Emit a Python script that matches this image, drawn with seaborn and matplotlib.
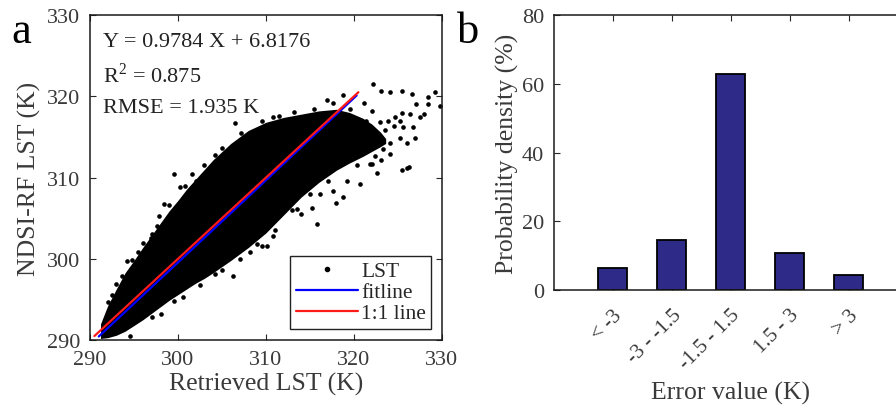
import numpy as np
import pandas as pd
import seaborn as sns
import matplotlib.pyplot as plt

# ---- panel a : retrieved vs NDSI-RF LST ----
# dense core of the cloud (lower / upper edge)
cloud_x = [291.2, 292, 293, 294, 295, 296, 297, 298, 299, 300, 301, 302, 303, 304,
           306, 308, 310, 312, 314, 316, 318, 319.5, 321, 322, 323, 323.6]
cloud_lo = [290.2, 290.3, 290.6, 291.1, 291.8, 292.5, 293.3, 294.1, 294.9, 295.6, 296.3,
            297.0, 297.6, 298.3, 299.8, 301.4, 303.2, 305.4, 307.6, 309.4, 310.9, 311.8,
            312.6, 313.2, 313.8, 314.2]
cloud_hi = [292.0, 294.2, 296.3, 298.3, 299.8, 301.4, 302.9, 304.4, 305.9, 307.2, 308.6,
            309.8, 311.0, 312.2, 314.2, 315.8, 316.8, 317.4, 317.8, 318.2, 318.4, 318.0,
            317.3, 316.6, 315.6, 314.8]

# loose points around the core
pts_x = [
    # upper-left side
    293.0, 293.6, 294.2, 295.5, 296.7, 296.9, 297.1, 297.6, 297.8, 298.4, 299.5, 300.2,
    301.6, 302.0, 304.2, 306.5, 310.8, 315.4, 314.4, 316.9, 317.6, 318.8,
    292.0, 292.5, 294.8, 296.0, 299.0, 300.8, 303.0, 305.0, 307.2, 309.5, 311.5, 313.2,
    # lower side
    294.5, 298.1, 300.6, 304.2, 306.3, 297.0, 299.5, 302.5, 305.0, 307.0, 309.0, 311.0,
    313.0, 315.0, 317.0, 308.2, 309.5, 310.1, 310.8, 312.0, 312.7, 313.5, 314.0, 315.2,
    315.75, 316.1, 317.6, 318.0, 318.8, 319.2, 320.7, 320.3, 321.8, 322.6,
    # sparse right end
    322.2, 323.1, 324.1, 325.4, 326.6, 328.4, 329.2, 328.4, 327.1, 325.4, 326.4, 327.5,
    327.9, 324.7, 325.2, 323.9, 324.5, 323.0, 323.5, 325.6, 326.7, 326.9, 326.0, 325.2,
    324.1, 322.8, 323.3, 324.1, 322.4, 323.1, 322.0, 326.0, 321.1, 322.0, 320.7, 321.4,
    319.5, 329.8, 325.5, 326.2]
pts_y = [
    296.9, 297.9, 299.7, 300.8, 301.8, 302.6, 303.0, 304.0, 305.3, 306.7, 310.4, 308.8,
    310.4, 309.6, 312.8, 316.7, 317.4, 318.4, 317.2, 319.5, 319.2, 320.1,
    294.7, 295.6, 299.9, 302.0, 306.6, 308.9, 311.6, 313.6, 315.5, 316.9, 317.6, 318.1,
    290.5, 293.2, 295.25, 298.1, 297.9, 292.8, 294.8, 296.8, 298.6, 300.0, 301.8, 303.5,
    306.0, 308.0, 309.6, 300.8, 301.6, 301.6, 302.8, 307.2, 306.7, 306.1, 305.5, 306.3,
    304.3, 308.0, 308.4, 306.9, 307.6, 309.6, 309.2, 311.5, 311.7, 310.6,
    321.5, 320.7, 320.5, 320.7, 320.3, 319.9, 320.5, 319.0, 319.0, 318.0, 317.8, 317.4,
    317.8, 317.4, 317.0, 317.0, 316.4, 316.8, 315.8, 316.2, 316.2, 314.9, 314.3, 314.9,
    314.3, 314.5, 313.5, 312.9, 312.7, 312.1, 311.7, 311.2, 319.2, 318.2, 316.4, 317.0,
    318.4, 318.8, 310.9, 311.3]

one_x = [290.5, 320.5]
one_y = [290.5, 320.5]
fit_x = [291.0, 320.3]
fit_y = [290.45, 320.1]

# ---- panel b : error histogram ----
err_bins = ['< -3', '-3 - -1.5', '-1.5 - 1.5', '1.5 - 3', '> 3']
err_pct = [6.5, 14.7, 62.8, 10.7, 4.3]

sns.set_style("ticks")
plt.rcParams['font.family'] = ['Liberation Serif', 'DejaVu Serif']
plt.rcParams['mathtext.fontset'] = 'custom'
plt.rcParams['mathtext.rm'] = 'Liberation Serif'
plt.rcParams['xtick.direction'] = 'in'
plt.rcParams['ytick.direction'] = 'in'
plt.rcParams['xtick.top'] = True
plt.rcParams['ytick.right'] = True

txt = '#3a3a3a'
fig = plt.figure(figsize=(8.96, 4.10), dpi=100)
ax1 = fig.add_axes([0.1004, 0.168, 0.3929, 0.793])
ax2 = fig.add_axes([0.618, 0.290, 0.395, 0.671])

# cloud
ax1.fill_between(cloud_x, cloud_lo, cloud_hi, color='black', lw=0, zorder=2)
sns.scatterplot(x=pts_x, y=pts_y, ax=ax1, color='black', s=11, linewidth=0,
                zorder=2, legend=False)
l_fit, = ax1.plot(fit_x, fit_y, color='#0000ff', lw=1.6, zorder=3, label='fitline')
l_one, = ax1.plot(one_x, one_y, color='#ff1a1a', lw=1.6, zorder=4, label='1:1 line')
dot, = ax1.plot([], [], ls='none', marker='o', ms=3, color='black', label='LST')

ax1.set_xlim(290, 330)
ax1.set_ylim(290, 330)
ax1.set_xticks([290, 300, 310, 320, 330])
ax1.set_yticks([290, 300, 310, 320, 330])
ax1.tick_params(labelsize=16, labelcolor=txt, length=4, width=0.8, pad=7)
ax1.set_xlabel('Retrieved LST (K)', fontsize=18.5, color=txt, labelpad=2)
ax1.set_ylabel('NDSI-RF LST (K)', fontsize=18.5, color=txt, labelpad=4)

ax1.text(0.037, 0.92, 'Y = 0.9784 X + 6.8176', transform=ax1.transAxes,
         fontsize=16, color='#222222', va='center')
ax1.text(0.037, 0.818, 'R$^2$ = 0.875', transform=ax1.transAxes,
         fontsize=16, color='#222222', va='center')
ax1.text(0.037, 0.717, 'RMSE = 1.935 K', transform=ax1.transAxes,
         fontsize=16, color='#222222', va='center')

leg = ax1.legend(handles=[dot, l_fit, l_one], loc='lower right',
                 bbox_to_anchor=(0.97, 0.035), fontsize=15.5, handlelength=2.9,
                 labelspacing=0.05, handletextpad=0.15, borderpad=0.25,
                 fancybox=False, framealpha=1, edgecolor='#222222', borderaxespad=0)
leg.get_frame().set_linewidth(1.0)

# histogram
df = pd.DataFrame({'bin': err_bins, 'pct': err_pct})
sns.barplot(data=df, x='bin', y='pct', ax=ax2, color='#2d2a88', edgecolor='black',
            linewidth=1.3, width=0.5, saturation=1)
ax2.set_xlim(-1, 5)
ax2.set_ylim(0, 80)
ax2.set_yticks([0, 20, 40, 60, 80])
ax2.tick_params(axis='y', labelsize=16, labelcolor=txt, length=4, width=0.8, pad=7)
ax2.tick_params(axis='x', labelsize=15, labelcolor=txt, length=4, width=0.8, pad=11)
for lab in ax2.get_xticklabels():
    lab.set_rotation(45)
    lab.set_ha('right')
    lab.set_va('top')
    lab.set_rotation_mode('anchor')
ax2.set_xlabel('Error value (K)', fontsize=18.5, color=txt, labelpad=6)
ax2.set_ylabel('Probability density (%)', fontsize=18.5, color=txt, labelpad=2)

for ax in (ax1, ax2):
    for sp in ax.spines.values():
        sp.set_linewidth(1.1)
        sp.set_color('#1a1a1a')

fig.text(0.013, 0.895, 'a', fontsize=32, color='black')
fig.text(0.510, 0.895, 'b', fontsize=32, color='black')

fig.savefig('out.png', dpi=100)
